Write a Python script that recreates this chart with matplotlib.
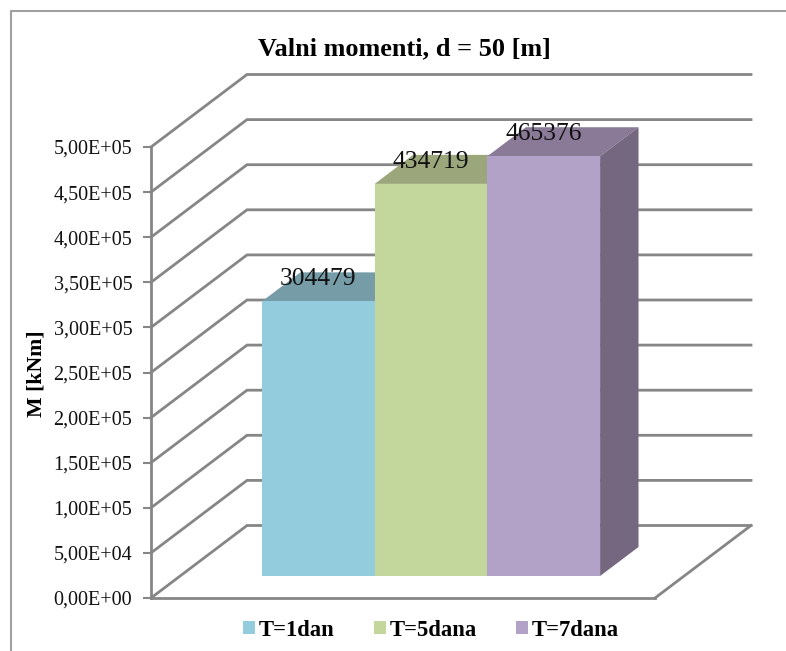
import matplotlib.pyplot as plt
from matplotlib.lines import Line2D
from matplotlib.patches import Polygon, Rectangle

W, H = 786, 651

categories = ["T=1dan", "T=5dana", "T=7dana"]
values = [304479, 434719, 465376]
ticks = [0, 50000, 100000, 150000, 200000, 250000, 300000, 350000, 400000, 450000, 500000]
tick_labels = ["0,00E+00", "5,00E+04", "1,00E+05", "1,50E+05", "2,00E+05", "2,50E+05",
               "3,00E+05", "3,50E+05", "4,00E+05", "4,50E+05", "5,00E+05"]
front_colors = ["#93cddd", "#c3d69b", "#b3a2c7"]
top_colors = ["#769ca8", "#9ba67b", "#8a7a98"]
side_color = "#75677f"

plt.rcParams["font.family"] = "Liberation Serif"

# one pixel in x and y, so the 3D depth can be added as an offset
YSCALE = 500000 / 451
DEPTH_X = 96
DEPTH_Y = 72.5 * YSCALE
BAR_DEPTH = 0.4


def proj(x, y, depth):
    # x is in pixels along the floor, y is the value, depth goes 0 to 1
    return (x + depth * DEPTH_X, y + depth * DEPTH_Y)


fig = plt.figure(figsize=(W / 100, H / 100), dpi=100)
ax = fig.add_axes([151 / W, 1 - 598 / H, 504 / W, 451 / H])
ax.set_xlim(0, 504)
ax.set_ylim(0, 500000)
ax.patch.set_visible(False)
for spine in ["top", "right"]:
    ax.spines[spine].set_visible(False)
for spine in ["left", "bottom"]:
    ax.spines[spine].set_color("#868686")
    ax.spines[spine].set_linewidth(2)

ax.set_xticks([])
ax.set_yticks(ticks, labels=tick_labels, fontsize=14.5, color="#111111")
ax.tick_params(axis="y", length=6, width=1.5, color="#868686", pad=7.5)
ax.set_ylabel("M [kNm]", fontsize=15.7, fontweight="bold")
ax.yaxis.set_label_coords((46 - 151) / 504, (598 - 374) / 451)

# walls
for t in ticks:
    xs, ys = zip(proj(0, t, 0), proj(0, t, 1), proj(504, t, 1))
    ax.plot(xs, ys, color="#868686", linewidth=2, clip_on=False, zorder=1,
            solid_joinstyle="miter")
xs, ys = zip(proj(504, 0, 1), proj(504, 0, 0))
ax.plot(xs, ys, color="#868686", linewidth=2, clip_on=False, zorder=1)

# bars, the floor of the bars sits at this depth
bar_width = 112.7
bar_left = 111
d0 = 22 * YSCALE
for i, v in enumerate(values):
    x0 = bar_left + i * bar_width
    x1 = x0 + bar_width
    top = v + d0
    top_pts = [proj(x0, top, 0), proj(x1, top, 0), proj(x1, top, BAR_DEPTH), proj(x0, top, BAR_DEPTH)]
    ax.add_patch(Polygon(top_pts, facecolor=top_colors[i], edgecolor="none", zorder=2, clip_on=False))
    ax.add_patch(Rectangle((x0, d0), bar_width, v, facecolor=front_colors[i],
                           edgecolor="none", zorder=3, clip_on=False))
    if i == len(values) - 1:
        side = [proj(x1, d0, 0), proj(x1, top, 0), proj(x1, top, BAR_DEPTH), proj(x1, d0, BAR_DEPTH)]
        ax.add_patch(Polygon(side, facecolor=side_color, edgecolor="none", zorder=2, clip_on=False))
    ax.text(x0 + bar_width / 2, top + 22 * YSCALE, str(v), ha="center", va="center",
            fontsize=18.4, color="#111111", zorder=5)

fig.text(404 / W, 1 - 49 / H, "Valni momenti, d = 50 [m]", ha="center", va="center",
         fontsize=18.9, fontweight="bold")

handles = [Rectangle((0, 0), 1, 1, facecolor=c, edgecolor="none") for c in front_colors]
fig.legend(handles, categories, loc="center", bbox_to_anchor=(431 / W, 1 - 630 / H), ncols=3,
           frameon=False, prop={"size": 16.3, "weight": "bold"}, handlelength=0.53,
           handleheight=0.53, handletextpad=0.18, columnspacing=1.72)

# chart frame, only top and left are inside the picture
fig.add_artist(Line2D([10.5 / W, 10.5 / W, 1], [0, 1 - 11 / H, 1 - 11 / H],
                      color="#a0a0a0", linewidth=1.5))

fig.savefig("out.png", dpi=100)
